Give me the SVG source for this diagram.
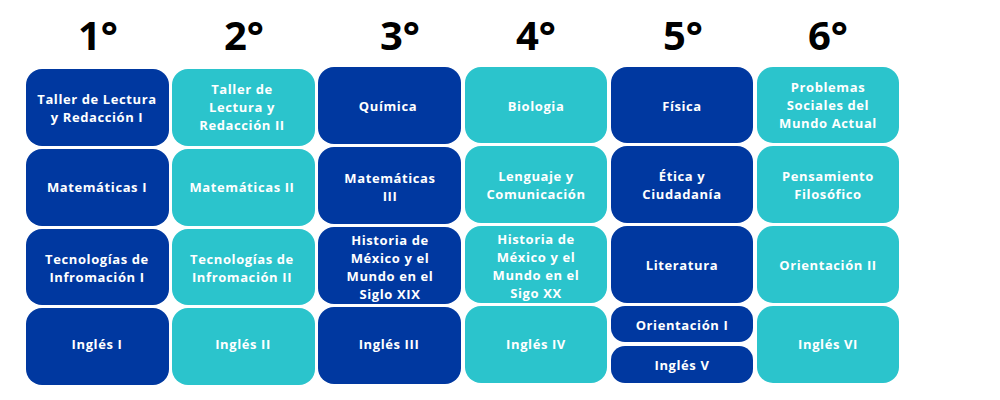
<svg xmlns="http://www.w3.org/2000/svg" width="1000" height="400" viewBox="0 0 1000 400">
<style>
.d{fill:#0038a0}.t{fill:#2bc4cc}
text{font-family:"Open Sans","DejaVu Sans",sans-serif;font-weight:bold;text-anchor:middle;fill:#fff;font-size:13px;letter-spacing:0.6px}
.h{fill:#000;font-size:40px;letter-spacing:0}
</style>
<rect width="1000" height="400" fill="#fff"/>
<g id="headers">
<text class="h" x="98" y="50">1°</text><text class="h" x="244" y="50">2°</text><text class="h" x="400" y="50">3°</text><text class="h" x="536" y="50">4°</text><text class="h" x="683" y="50">5°</text><text class="h" x="828" y="50">6°</text>
</g>
<g id="c1">
<g id="n1a"><rect class="d" x="26" y="69" width="143" height="77" rx="16"/><text x="97" y="104">Taller de Lectura</text><text x="97" y="122">y Redacción I</text></g>
<g id="n1b"><rect class="d" x="26" y="149" width="143" height="77" rx="16"/><text x="97" y="192">Matemáticas I</text></g>
<g id="n1c"><rect class="d" x="26" y="229" width="143" height="76" rx="16"/><text x="97" y="264">Tecnologías de</text><text x="97" y="282">Infromación I</text></g>
<g id="n1d"><rect class="d" x="26" y="308" width="143" height="77" rx="16"/><text x="97" y="349">Inglés I</text></g>
</g>
<g id="c2">
<g id="n2a"><rect class="t" x="172" y="69" width="143" height="77" rx="16"/><text x="242" y="94">Taller de</text><text x="242" y="112">Lectura y</text><text x="242" y="130">Redacción II</text></g>
<g id="n2b"><rect class="t" x="172" y="149" width="143" height="77" rx="16"/><text x="242" y="192">Matemáticas II</text></g>
<g id="n2c"><rect class="t" x="172" y="229" width="143" height="76" rx="16"/><text x="242" y="264">Tecnologías de</text><text x="242" y="282">Infromación II</text></g>
<g id="n2d"><rect class="t" x="172" y="308" width="143" height="77" rx="16"/><text x="243" y="349">Inglés II</text></g>
</g>
<g id="c3">
<g id="n3a"><rect class="d" x="318" y="67" width="143" height="77" rx="16"/><text x="388" y="111">Química</text></g>
<g id="n3b"><rect class="d" x="318" y="147" width="143" height="77" rx="16"/><text x="390" y="183">Matemáticas</text><text x="390" y="201">III</text></g>
<g id="n3c"><rect class="d" x="318" y="227" width="143" height="77" rx="16"/><text x="390" y="245">Historia de</text><text x="390" y="263">México y el</text><text x="390" y="281">Mundo en el</text><text x="390" y="299">Siglo XIX</text></g>
<g id="n3d"><rect class="d" x="318" y="307" width="143" height="77" rx="16"/><text x="389" y="349">Inglés III</text></g>
</g>
<g id="c4">
<g id="n4a"><rect class="t" x="465" y="67" width="142" height="76" rx="16"/><text x="536" y="111">Biologia</text></g>
<g id="n4b"><rect class="t" x="465" y="146" width="142" height="77" rx="16"/><text x="536" y="181">Lenguaje y</text><text x="536" y="199">Comunicación</text></g>
<g id="n4c"><rect class="t" x="465" y="226" width="142" height="77" rx="16"/><text x="536" y="244">Historia de</text><text x="536" y="262">México y el</text><text x="536" y="280">Mundo en el</text><text x="536" y="298">Sigo XX</text></g>
<g id="n4d"><rect class="t" x="465" y="306" width="142" height="77" rx="16"/><text x="536" y="349">Inglés IV</text></g>
</g>
<g id="c5">
<g id="n5a"><rect class="d" x="611" y="67" width="142" height="76" rx="16"/><text x="682" y="111">Física</text></g>
<g id="n5b"><rect class="d" x="611" y="146" width="142" height="77" rx="16"/><text x="682" y="181">Ética y</text><text x="682" y="199">Ciudadanía</text></g>
<g id="n5c"><rect class="d" x="611" y="226" width="142" height="77" rx="16"/><text x="682" y="270">Literatura</text></g>
<g id="n5d"><rect class="d" x="611" y="306" width="142" height="36" rx="14"/><text x="682" y="330">Orientación I</text></g>
<g id="n5e"><rect class="d" x="611" y="346" width="142" height="37" rx="14"/><text x="682" y="370">Inglés V</text></g>
</g>
<g id="c6">
<g id="n6a"><rect class="t" x="757" y="67" width="142" height="76" rx="16"/><text x="828" y="92">Problemas</text><text x="828" y="110">Sociales del</text><text x="828" y="128">Mundo Actual</text></g>
<g id="n6b"><rect class="t" x="757" y="146" width="142" height="77" rx="16"/><text x="828" y="181">Pensamiento</text><text x="828" y="199">Filosófico</text></g>
<g id="n6c"><rect class="t" x="757" y="226" width="142" height="77" rx="16"/><text x="828" y="270">Orientación II</text></g>
<g id="n6d"><rect class="t" x="757" y="306" width="142" height="77" rx="16"/><text x="828" y="349">Inglés VI</text></g>
</g>
<g id="connectors"/>
</svg>
